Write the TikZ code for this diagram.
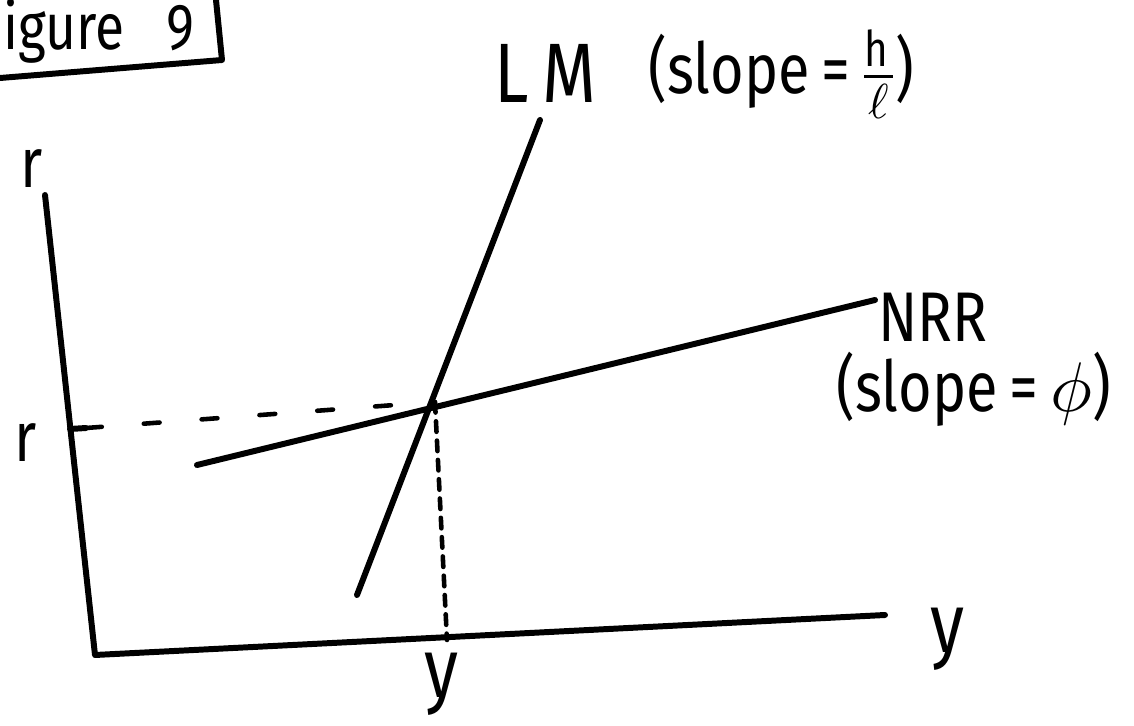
\documentclass[tikz,border=0pt]{standalone}
\usepackage{fontspec}
\usepackage{unicode-math}
\setmainfont{Fira Sans}[FakeStretch=0.82]
\setmathfont{Latin Modern Math}
\usetikzlibrary{calc}

\begin{document}
\begin{tikzpicture}[x=0.02cm,y=-0.02cm,line cap=round,line join=round]
  \tikzset{
    ink/.style={line width=3.4pt},
    hguide/.style={line width=2.6pt,dash pattern=on 9pt off 24pt},
    vguide/.style={line width=2.6pt,dash pattern=on 6pt off 5pt},
    lbl/.style={inner sep=0pt,font=\fontsize{40}{44}\selectfont},
    titlelbl/.style={inner sep=0pt,font=\fontsize{37}{40}\selectfont},
    biglbl/.style={inner sep=0pt,font=\fontsize{48}{52}\selectfont}
  }
  \useasboundingbox (0,0) rectangle (1134,726);
  % title box
  \coordinate (B0) at (0,78);
  \coordinate (B1) at (222,60);
  \coordinate (B2) at (216,0);
  \draw[ink] (B0) -- (B1) -- (B2);
  \node[titlelbl,anchor=base west] (title) at (3,50) {igure\hspace{24pt}9};
  % axes
  \coordinate (O) at (95,655);
  \coordinate (RT) at (45,195);
  \coordinate (YE) at (885,615);
  \draw[ink] (RT) -- (O) -- (YE);
  \node[lbl,anchor=base] (rax) at (32,188) {r};
  \node[biglbl,anchor=base] (yax) at (948,652) {y};
  % curves
  \coordinate (LM0) at (357,595);
  \coordinate (LM1) at (540,120);
  \coordinate (N0) at (197,465);
  \coordinate (N1) at (875,300);
  \draw[ink] (LM0) -- (LM1);
  \draw[ink] (N0) -- (N1);
  \coordinate (E) at (435,402);
  % guides
  \coordinate (RK) at (70,429);
  \coordinate (RK1) at (86,428);
  \coordinate (YK) at (447,640);
  \draw[ink] (RK) -- (RK1);
  \draw[hguide] (RK1) -- (E);
  \draw[vguide] (E) -- (YK);
  \node[lbl,anchor=base] (rval) at (26,462) {r};
  \node[biglbl,anchor=base] (yval) at (442,697) {y};
  % labels
  \node[biglbl,anchor=base west] (lmlbl) at (494,103) {L\,M};
  \node[lbl,anchor=base west] (lmslope) at (648,94)
    {(slope\,=\,$\frac{\mathrm{h}}{\ell}$)};
  \node[lbl,anchor=base west] (nrrlbl) at (878,342) {NRR};
  \node[lbl,anchor=base west] (nrrslope) at (836,412) {(slope\,=\,$\phi$)};
\end{tikzpicture}
\end{document}
